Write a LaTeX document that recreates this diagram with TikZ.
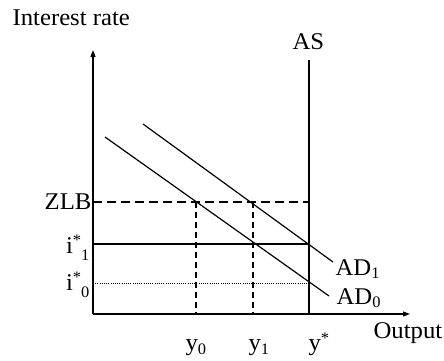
\documentclass[tikz,border=0pt]{standalone}
\usepackage{fontspec}
\setmainfont{Liberation Serif}[FakeStretch=1.03]
\usetikzlibrary{arrows.meta}
\newcommand\lsub[2]{\raisebox{-#1}{\fontsize{16}{16}\selectfont #2}}
\newcommand\lsup[2]{\raisebox{#1}{\fontsize{16}{16}\selectfont #2}}
\begin{document}
\begin{tikzpicture}[x=1pt,y=-1pt, line width=1.2pt,
  lab/.style={font=\fontsize{24}{27}\selectfont, inner sep=0pt},
  axis/.style={-{Triangle[length=7pt,width=5pt]}},
  dashH/.style={dash pattern=on 9pt off 5pt},
  dashV/.style={dash pattern=on 6pt off 4pt},
  dotl/.style={line width=1pt, dash pattern=on 1pt off 1.2pt},
  curve/.style={line width=1.2pt}]
\useasboundingbox (0,0) rectangle (444,360);
% axes
\coordinate (O) at (93,314);
\coordinate (Ytop) at (93,50);
\coordinate (Xend) at (410,314);
\draw[axis] (O) -- (Ytop);
\draw[axis] (O) -- (Xend);
% AS
\coordinate (ASb) at (309,314);
\coordinate (ASt) at (309,60);
\draw (ASb) -- (ASt);
\node[lab, anchor=base west] (AS) at (292,49) {AS};
\node[lab, anchor=base west] (ir) at (12,25) {Interest rate};
% ZLB
\coordinate (zl) at (93,202);
\coordinate (zr) at (309,202);
\draw[dashH] (zl) -- (zr);
\node[lab, anchor=east] (zlb) at (92,202) {ZLB};
% i1
\coordinate (i1l) at (93,244);
\coordinate (i1r) at (309,244);
\draw (i1l) -- (i1r);
\node[lab, anchor=base east] (i1) at (90,253) {i\lsup{8pt}{*}\lsub{7pt}{1}};
% i0
\coordinate (i0l) at (93,283);
\coordinate (i0r) at (309,283);
\draw[dotl] (i0l) -- (i0r);
\node[lab, anchor=base east] (i0) at (90,290) {i\lsup{8pt}{*}\lsub{7pt}{0}};
% y verticals
\coordinate (y0t) at (196,202);
\coordinate (y0b) at (196,314);
\coordinate (y1t) at (253,202);
\coordinate (y1b) at (253,314);
\draw[dashV] (y0t) -- (y0b);
\draw[dashV] (y1t) -- (y1b);
% AD curves
\coordinate (ad0a) at (105,137);
\coordinate (ad0b) at (329,296);
\coordinate (ad1a) at (143,124);
\coordinate (ad1b) at (333,262);
\draw[curve] (ad0a) -- (ad0b);
\draw[curve] (ad1a) -- (ad1b);
\node[lab, anchor=base west] (AD1) at (335,275) {AD\lsub{3pt}{1}};
\node[lab, anchor=base west] (AD0) at (336,304) {AD\lsub{3pt}{0}};
% x labels
\node[lab, anchor=base west] (ly0) at (185,350) {y\lsub{4pt}{0}};
\node[lab, anchor=base west] (ly1) at (248,350) {y\lsub{4pt}{1}};
\node[lab, anchor=base west] (lys) at (308,350) {y\lsup{7pt}{*}};
\node[lab, anchor=base west] (out) at (373,338) {Output};
\end{tikzpicture}
\end{document}
